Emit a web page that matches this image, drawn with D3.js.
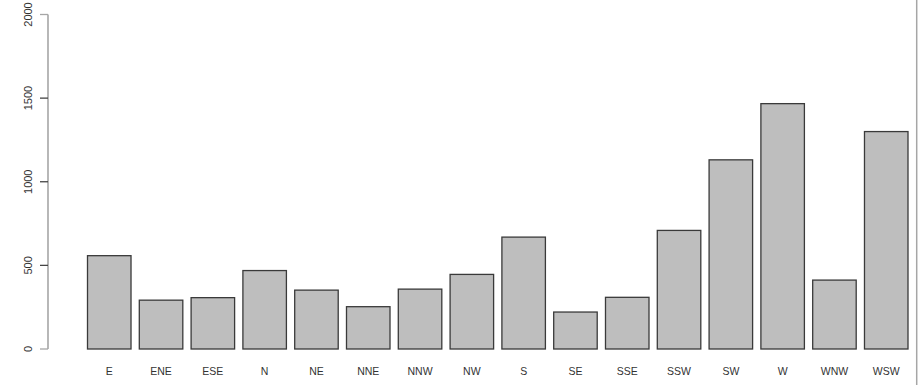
<!DOCTYPE html>
<html>
<head>
<meta charset="utf-8">
<script src="https://cdn.jsdelivr.net/npm/d3@7"></script>
<style>
  html, body { margin: 0; padding: 0; background: #fff; }
  svg { display: block; }
  text { font-family: "Liberation Sans", Arial, Helvetica, sans-serif; fill: #333; }
</style>
</head>
<body>
<svg id="chart" width="919" height="385"></svg>
<script>
// Wind direction counts
const directions = ["E", "ENE", "ESE", "N", "NE", "NNE", "NNW", "NW", "S", "SE", "SSE", "SSW", "SW", "W", "WNW", "WSW"];
const counts = [558, 292, 307, 469, 352, 253, 358, 446, 669, 221, 309, 709, 1131, 1467, 412, 1300];
const yTicks = [0, 500, 1000, 1500, 2000];

const svg = d3.select("#chart");

const x = d3.scaleBand()
  .domain(directions)
  .range([87.5, 908])
  .paddingInner(0.16)
  .paddingOuter(0);

const y = d3.scaleLinear()
  .domain([0, 2000])
  .range([349, 14.5]);

// Bars
svg.append("g")
  .selectAll("rect")
  .data(directions.map((d, i) => ({ dir: d, n: counts[i] })))
  .join("rect")
  .attr("x", d => x(d.dir))
  .attr("y", d => y(d.n))
  .attr("width", x.bandwidth())
  .attr("height", d => y(0) - y(d.n))
  .attr("fill", "#bebebe")
  .attr("stroke", "#3a3a3a")
  .attr("stroke-width", 1.3);

// Category labels under the bars
svg.append("g")
  .selectAll("text")
  .data(directions)
  .join("text")
  .attr("x", d => x(d) + x.bandwidth() / 2)
  .attr("y", 374.5)
  .attr("text-anchor", "middle")
  .attr("font-size", 10.5)
  .text(d => d);

// Left value axis
const yAxis = svg.append("g");
yAxis.append("line")
  .attr("x1", 48).attr("x2", 48)
  .attr("y1", y(2000)).attr("y2", y(0))
  .attr("stroke", "#a6a6a6")
  .attr("stroke-width", 1.6);
yAxis.selectAll("line.tick")
  .data(yTicks)
  .join("line")
  .attr("class", "tick")
  .attr("x1", 40).attr("x2", 48)
  .attr("y1", d => y(d)).attr("y2", d => y(d))
  .attr("stroke", d => (d === 0 || d === 2000) ? "#a6a6a6" : "#444")
  .attr("stroke-width", 1.3);
yAxis.selectAll("text")
  .data(yTicks)
  .join("text")
  .attr("transform", d => `translate(32, ${y(d)}) rotate(-90)`)
  .attr("text-anchor", "middle")
  .attr("font-size", 11)
  .text(d => d);

// Right frame edge
svg.append("line")
  .attr("x1", 916.7).attr("x2", 916.7)
  .attr("y1", 0).attr("y2", 385)
  .attr("stroke", "#a6a6a6")
  .attr("stroke-width", 1.5);
</script>
</body>
</html>
